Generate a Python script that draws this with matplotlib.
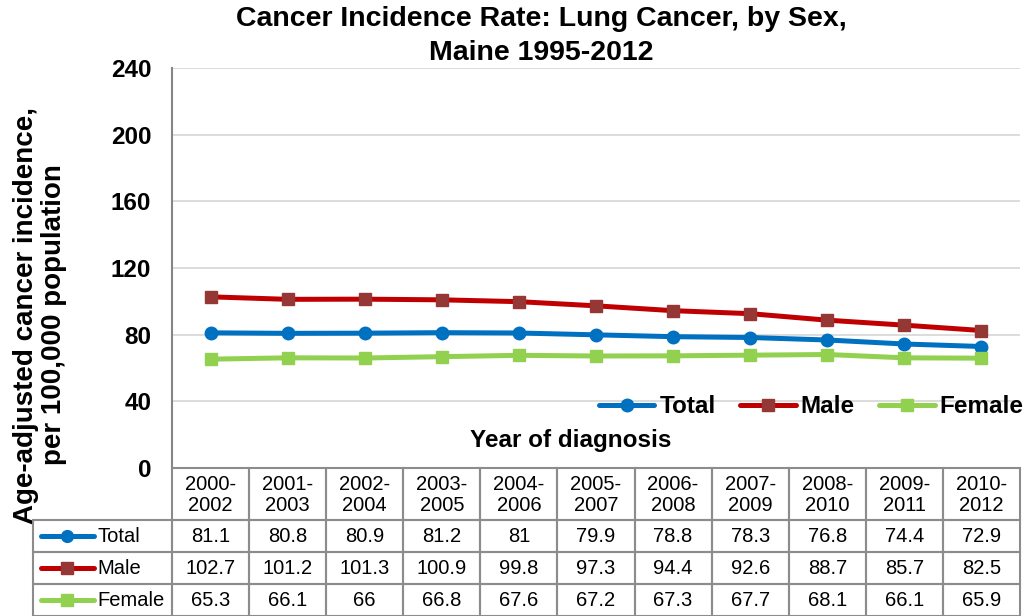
import numpy as np
import matplotlib.pyplot as plt
from matplotlib.patches import Rectangle
from matplotlib.lines import Line2D

plt.rcParams['font.family'] = ['Liberation Sans', 'DejaVu Sans']

years = ['2000-\n2002', '2001-\n2003', '2002-\n2004', '2003-\n2005', '2004-\n2006',
         '2005-\n2007', '2006-\n2008', '2007-\n2009', '2008-\n2010', '2009-\n2011',
         '2010-\n2012']
total = [81.1, 80.8, 80.9, 81.2, 81, 79.9, 78.8, 78.3, 76.8, 74.4, 72.9]
male = [102.7, 101.2, 101.3, 100.9, 99.8, 97.3, 94.4, 92.6, 88.7, 85.7, 82.5]
female = [65.3, 66.1, 66, 66.8, 67.6, 67.2, 67.3, 67.7, 68.1, 66.1, 65.9]
total_lbl = ['81.1', '80.8', '80.9', '81.2', '81', '79.9', '78.8', '78.3', '76.8', '74.4', '72.9']
male_lbl = ['102.7', '101.2', '101.3', '100.9', '99.8', '97.3', '94.4', '92.6', '88.7', '85.7', '82.5']
female_lbl = ['65.3', '66.1', '66', '66.8', '67.6', '67.2', '67.3', '67.7', '68.1', '66.1', '65.9']

series = [('Total', total, total_lbl, '#0070C0', '#0070C0', 'o'),
          ('Male', male, male_lbl, '#C00000', '#953735', 's'),
          ('Female', female, female_lbl, '#92D050', '#92D050', 's')]

W, H = 1026, 616
fig = plt.figure(figsize=(W / 100, H / 100), dpi=100)
x0, x1, ytop, ybot = 172, 1020, 68, 468
ax = fig.add_axes([x0 / W, 1 - ybot / H, (x1 - x0) / W, (ybot - ytop) / H])

x = np.arange(len(years))
for name, vals, _, lc, mc, mk in series:
    ax.plot(x, vals, color=lc, lw=3.6, marker=mk, ms=9 if mk == 'o' else 8,
            mfc=mc, mec=mc, label=name, solid_capstyle='round', zorder=3)

ax.set_xlim(-0.5, len(years) - 0.5)
ax.set_ylim(0, 240)
ax.set_yticks(range(0, 241, 40))
ax.set_yticklabels([str(v) for v in range(0, 241, 40)], fontsize=17.5, fontweight='bold')
ax.tick_params(axis='y', length=0, pad=15)
ax.set_xticks([])
ax.grid(axis='y', color='#D9D9D9', lw=1.3)
ax.set_axisbelow(True)
for s in ['top', 'right', 'bottom']:
    ax.spines[s].set_visible(False)
ax.spines['left'].set_color('#868686')
ax.spines['left'].set_linewidth(1.5)

leg = ax.legend(loc='center right', bbox_to_anchor=(1.016, 0.153), ncol=3, frameon=False,
                prop={'size': 17.5, 'weight': 'bold'}, handlelength=2.3, handletextpad=0.2,
                columnspacing=1.0, borderaxespad=0)

ax.text((571 - x0) / (x1 - x0), (ybot - 440) / (ybot - ytop), 'Year of diagnosis',
        transform=ax.transAxes, ha='center', va='center', fontsize=17.5, fontweight='bold')

fig.text(541 / W, 1 - 6 / H, 'Cancer Incidence Rate: Lung Cancer, by Sex,\nMaine 1995-2012',
         ha='center', va='top', fontsize=20.5, fontweight='bold', linespacing=1.42)

fig.text(40 / W, 1 - 315 / H, 'Age-adjusted cancer incidence,\nper 100,000 population',
         ha='center', va='center', rotation=90, fontsize=20, fontweight='bold',
         linespacing=1.1)

# data table below the plot, drawn in figure pixel coordinates
edge = '#8C8C8C'
tx0 = 33
col_w = (x1 - x0) / len(years)
hdr_h, row_h = 52, 32


def px_rect(left, top, w, h):
    r = Rectangle((left / W, 1 - (top + h) / H), w / W, h / H, transform=fig.transFigure,
                  fill=False, edgecolor=edge, lw=1.5, clip_on=False)
    fig.add_artist(r)


for j, yr in enumerate(years):
    left = x0 + j * col_w
    px_rect(left, ybot, col_w, hdr_h)
    fig.text((left + col_w / 2) / W, 1 - (ybot + hdr_h / 2 + 1) / H, yr, ha='center',
             va='center', fontsize=14.5, linespacing=1.15)

for i, (name, vals, lbls, lc, mc, mk) in enumerate(series):
    top = ybot + hdr_h + i * row_h
    yc = 1 - (top + row_h / 2) / H
    px_rect(tx0, top, x0 - tx0, row_h)
    for j, lb in enumerate(lbls):
        left = x0 + j * col_w
        px_rect(left, top, col_w, row_h)
        fig.text((left + col_w / 2) / W, yc, lb, ha='center', va='center', fontsize=14.5)
    # legend key inside the row-label cell
    fig.add_artist(Line2D([41 / W, 94 / W], [yc, yc], color=lc, lw=3.6,
                          solid_capstyle='round', transform=fig.transFigure))
    fig.add_artist(Line2D([67 / W], [yc], marker=mk, ms=8.5 if mk == 'o' else 8,
                          mfc=mc, mec=mc, transform=fig.transFigure))
    fig.text(97 / W, yc, name, ha='left', va='center', fontsize=14.5)

fig.savefig('out.png', dpi=100)
